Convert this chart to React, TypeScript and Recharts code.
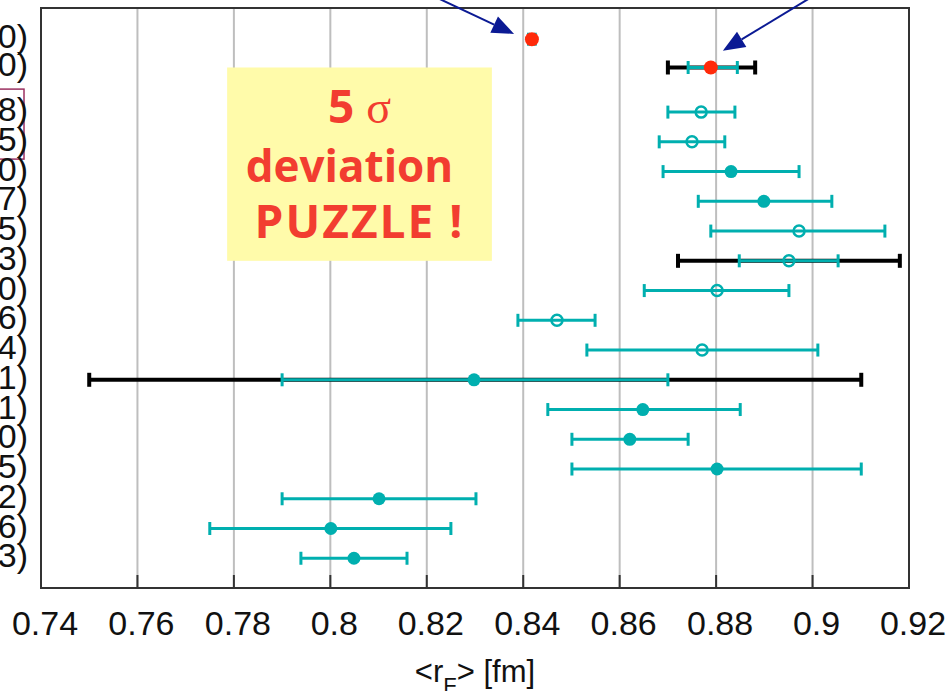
import React from "react";
import {
  ScatterChart,
  Scatter,
  XAxis,
  YAxis,
  CartesianGrid,
  ErrorBar,
  ReferenceArea,
  ReferenceLine,
} from "recharts";

// rows from top to bottom; pos is the slot on the vertical axis
const rowLabels = ["0)", "0)", "8)", "5)", "0)", "7)", "5)", "3)", "0)", "6)", "4)", "1)", "1)", "0)", "5)", "2)", "6)", "3)"];
const rowPos = [18.45, 17.5, 16, 15, 14, 13, 12, 11, 10, 9, 8, 7, 6, 5, 4, 3, 2, 1];
const radius = [0.8418, 0.8789, 0.8769, 0.875, 0.8831, 0.8899, 0.8972, 0.8951, 0.8802, 0.847, 0.8771, 0.8298, 0.8648, 0.8621, 0.8802, 0.8101, 0.8001, 0.8049];
const statLow = [0.8411, 0.8742, 0.87, 0.8682, 0.869, 0.8763, 0.8789, 0.8848, 0.8651, 0.8389, 0.8532, 0.79, 0.8451, 0.8501, 0.8501, 0.79, 0.775, 0.7939];
const statHigh = [0.8425, 0.8844, 0.8839, 0.8818, 0.8972, 0.904, 0.915, 0.9053, 0.8951, 0.8549, 0.9011, 0.87, 0.885, 0.8742, 0.9101, 0.8302, 0.825, 0.8159];
const totalLow = [null, 0.87, null, null, null, null, null, 0.8721, null, null, null, 0.75, null, null, null, null, null, null];
const totalHigh = [null, 0.8881, null, null, null, null, null, 0.9181, null, null, null, 0.9101, null, null, null, null, null, null];
const markers = ["red", "red", "open", "open", "filled", "filled", "open", "open", "open", "open", "open", "filled", "filled", "filled", "filled", "filled", "filled", "filled"];

const xTicks = [0.74, 0.76, 0.78, 0.8, 0.82, 0.84, 0.86, 0.88, 0.9, 0.92];
const xTickLabels = ["0.74", "0.76", "0.78", "0.8", "0.82", "0.84", "0.86", "0.88", "0.9", "0.92"];

const TEAL = "#00AFAF";
const RED = "#FF2A0A";
const NAVY = "#0B1A94";
const FRAME = "#333333";
const AXIS_FONT = "'Liberation Sans', Arial, Helvetica, sans-serif";

const points = radius.map((r, i) => ({
  r,
  pos: rowPos[i],
  kind: markers[i],
  stat: [r - statLow[i], statHigh[i] - r],
  total: totalLow[i] == null ? null : [r - (totalLow[i] as number), (totalHigh[i] as number) - r],
}));

const Marker = (props: any) => {
  const { cx, cy, payload } = props;
  if (cx == null || cy == null) return null;
  if (payload.kind === "red") return <circle cx={cx} cy={cy} r={7} fill={RED} />;
  if (payload.kind === "open")
    return <circle cx={cx} cy={cy} r={5.5} fill="none" stroke={TEAL} strokeWidth={2.5} />;
  return <circle cx={cx} cy={cy} r={6.5} fill={TEAL} />;
};

const RowTick = (props: any) => {
  const { x, y, payload } = props;
  const i = rowPos.indexOf(payload.value);
  return (
    <g>
      {i === 2 && (
        <rect x={x - 47} y={y - 23} width={30} height={70} fill="none" stroke="#9B3060" strokeWidth={1.5} />
      )}
      <text x={x - 13} y={y + 9} textAnchor="end" fontSize={34} fill="#111" fontFamily={AXIS_FONT}>
        {rowLabels[i]}
      </text>
    </g>
  );
};

const isInner = (v: number) => v > xTicks[0] && v < xTicks[xTicks.length - 1];

const BottomTick = (props: any) => {
  const { x, y, payload } = props;
  const i = xTicks.indexOf(payload.value);
  return (
    <g>
      {isInner(payload.value) && <line x1={x} x2={x} y1={y} y2={y - 13} stroke={FRAME} strokeWidth={2} />}
      <text x={x + 4} y={y + 47} textAnchor="middle" fontSize={34} fill="#111" fontFamily={AXIS_FONT}>
        {xTickLabels[i]}
      </text>
    </g>
  );
};

const TopTick = (props: any) => {
  const { x, y, payload } = props;
  if (!isInner(payload.value)) return null;
  return <line x1={x} x2={x} y1={y} y2={y + 13} stroke={FRAME} strokeWidth={2} />;
};

const AxisTitle = (props: any) => {
  const { viewBox } = props;
  const cx = viewBox.x + viewBox.width / 2;
  return (
    <text x={cx} y={viewBox.y + 94} textAnchor="middle" fontSize={31} fill="#111" fontFamily={AXIS_FONT}>
      {"<r"}
      <tspan fontSize={22} dy={11}>F</tspan>
      <tspan dy={-11}>{"> [fm]"}</tspan>
    </text>
  );
};

// yellow note box with the big red text
const NoteBox = (props: any) => {
  const { x, y, width, height } = props;
  const cx = x + width / 2;
  const font = "'Open Sans', 'DejaVu Sans', sans-serif";
  return (
    <g>
      <rect x={x} y={y} width={width} height={height} fill="#FFFBAA" />
      <text x={cx} y={y + 56} textAnchor="middle" fontSize={46} fill="#F23D30" fontWeight={700}>
        <tspan fontFamily={font}>5 </tspan>
        <tspan fontFamily="'Liberation Serif', 'DejaVu Serif', serif" fontWeight={400}>σ</tspan>
      </text>
      <text x={cx - 10} y={y + 115} textAnchor="middle" fontSize={44} fill="#F23D30" fontWeight={700} fontFamily={font}>
        deviation
      </text>
      <text x={cx} y={y + 171} textAnchor="middle" fontSize={46} fill="#F23D30" fontWeight={700} fontFamily={font} letterSpacing={2}>
        PUZZLE !
      </text>
    </g>
  );
};

const Arrow = (props: any) => {
  const { x1, y1, x2, y2 } = props;
  const ang = Math.atan2(y2 - y1, x2 - x1);
  const len = 22;
  const half = 9;
  const bx = x2 - len * Math.cos(ang);
  const by = y2 - len * Math.sin(ang);
  const nx = -Math.sin(ang) * half;
  const ny = Math.cos(ang) * half;
  return (
    <g>
      <line x1={x1} y1={y1} x2={bx} y2={by} stroke={NAVY} strokeWidth={2} />
      <polygon points={`${x2},${y2} ${bx + nx},${by + ny} ${bx - nx},${by - ny}`} fill={NAVY} />
    </g>
  );
};

export default function App() {
  return (
    <div style={{ position: "absolute", left: 0, top: 0, background: "#fff" }}>
      <ScatterChart width={951} height={691} margin={{ top: 8, right: 42, left: 0, bottom: 0 }}>
        <CartesianGrid horizontal={false} stroke="#BEBEBE" strokeWidth={2} />
        <XAxis
          type="number"
          dataKey="r"
          domain={[0.74, 0.92]}
          ticks={xTicks}
          interval={0}
          allowDataOverflow
          height={103}
          axisLine={false}
          tickLine={false}
          tickSize={0}
          tickMargin={0}
          tick={<BottomTick />}
          label={{ content: <AxisTitle /> }}
        />
        <XAxis
          xAxisId="top"
          orientation="top"
          type="number"
          domain={[0.74, 0.92]}
          ticks={xTicks}
          interval={0}
          allowDataOverflow
          height={0}
          axisLine={false}
          tickLine={false}
          tickSize={0}
          tickMargin={0}
          tick={<TopTick />}
        />
        <YAxis
          type="number"
          dataKey="pos"
          domain={[0, 19.5]}
          ticks={rowPos}
          interval={0}
          allowDataOverflow
          width={41}
          axisLine={false}
          tickLine={false}
          tickSize={0}
          tickMargin={0}
          tick={<RowTick />}
        />
        <ReferenceArea x1={0.7786} x2={0.8335} y1={11} y2={17.5} ifOverflow="visible" shape={<NoteBox />} />
        <ReferenceLine
          segment={[{ x: 0.8227, y: 19.8 }, { x: 0.8381, y: 18.63 }]}
          ifOverflow="visible"
          shape={<Arrow />}
        />
        <ReferenceLine
          segment={[{ x: 0.8991, y: 19.8 }, { x: 0.8814, y: 18.06 }]}
          ifOverflow="visible"
          shape={<Arrow />}
        />
        <Scatter data={points} shape={<Marker />} isAnimationActive={false}>
          <ErrorBar dataKey="total" direction="x" width={7} strokeWidth={4} stroke="#000" isAnimationActive={false} />
          <ErrorBar dataKey="stat" direction="x" width={6.5} strokeWidth={3} stroke={TEAL} isAnimationActive={false} />
        </Scatter>
        <ReferenceArea
          x1={0.74}
          x2={0.92}
          y1={0}
          y2={19.5}
          fill="none"
          fillOpacity={0}
          stroke={FRAME}
          strokeWidth={2}
          ifOverflow="visible"
        />
      </ScatterChart>
    </div>
  );
}
